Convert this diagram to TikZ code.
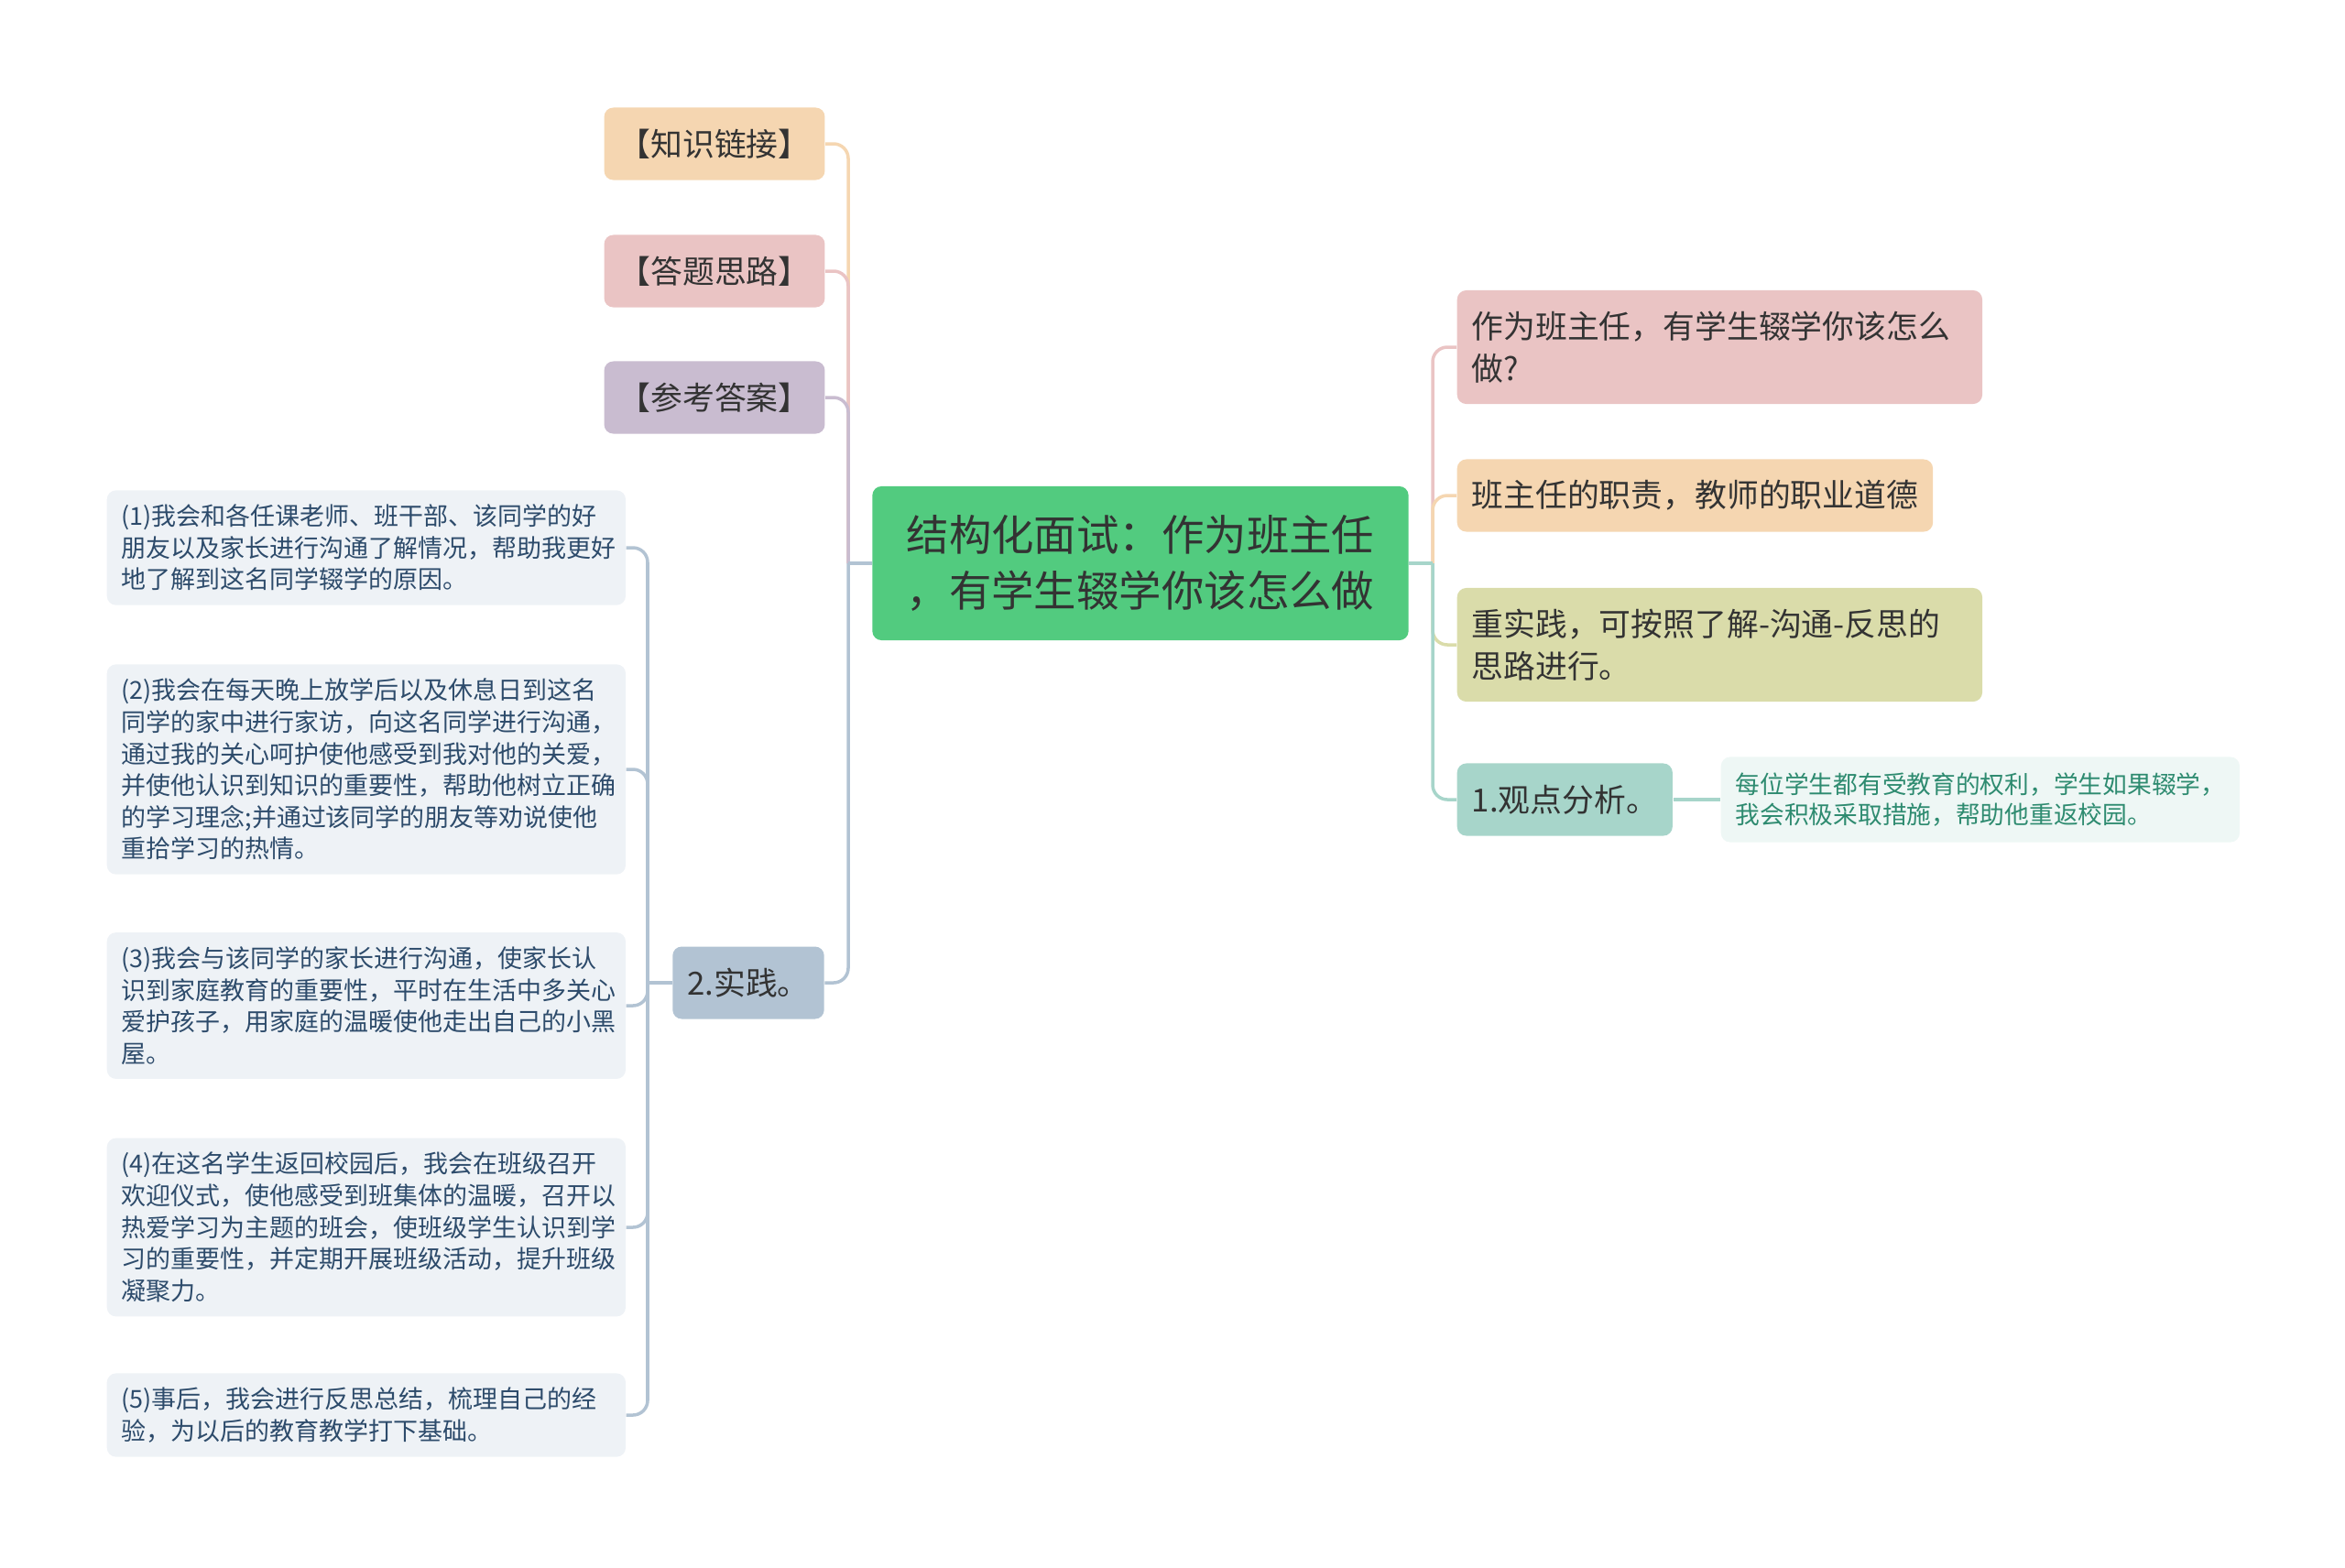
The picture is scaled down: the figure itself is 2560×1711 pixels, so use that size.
\documentclass[tikz,border=0pt]{standalone}
\usepackage{fontspec}
\setmainfont{Noto Sans CJK SC}
\usetikzlibrary{positioning}

\definecolor{peach}{HTML}{F5D6B1}
\definecolor{rose}{HTML}{EAC4C4}
\definecolor{lilac}{HTML}{C9BCD0}
\definecolor{rootgreen}{HTML}{52CB7F}
\definecolor{slate}{HTML}{B2C3D3}
\definecolor{leafbg}{HTML}{EEF2F6}
\definecolor{leaftext}{HTML}{2D4B6B}
\definecolor{olive}{HTML}{DADCAA}
\definecolor{mint}{HTML}{A7D5CA}
\definecolor{notebg}{HTML}{EEF7F5}
\definecolor{notetext}{HTML}{2E8B70}
\definecolor{textdark}{HTML}{333333}

\begin{document}
\begin{tikzpicture}[x=0.01cm, y=-0.01cm,
    box/.style={rounded corners=0.1cm, inner xsep=0.16cm, inner ysep=0pt, text=textdark},
    topic/.style={box, font=\fontsize{9.9}{13}\selectfont, minimum height=0.79cm},
    wide/.style={topic, text width=5.41cm, minimum height=1.24cm, align=left},
    leaf/.style={box, fill=leafbg, text=leaftext, font=\fontsize{7.67}{9.85}\selectfont,
        text width=5.34cm, inner ysep=4.4pt, align=left, anchor=west},
    link/.style={line width=1pt, rounded corners=0.16cm}]

    \useasboundingbox (0,0) rectangle (2560,1711);

    % centre
    \node[box, fill=rootgreen, font=\fontsize{13.2}{17.1}\selectfont, minimum width=5.85cm,
        minimum height=1.68cm, align=center] (root) at (1245,615)
        {结构化面试：作为班主任\\，有学生辍学你该怎么做};

    % left branch
    \node[topic, fill=peach, minimum width=2.4cm] (know) at (780,157) {【知识链接】};
    \node[topic, fill=rose, minimum width=2.4cm] (idea) at (780,296) {【答题思路】};
    \node[topic, fill=lilac, minimum width=2.4cm] (answer) at (780,434) {【参考答案】};
    \node[topic, fill=slate, minimum width=1.65cm] (prac) at (817,1073) {2.实践。};

    \node[leaf] (p1) at (116,598) {(1)我会和各任课老师、班干部、该同学的好\\朋友以及家长进行沟通了解情况，帮助我更好\\地了解到这名同学辍学的原因。};
    \node[leaf] (p2) at (116,840) {(2)我会在每天晚上放学后以及休息日到这名\\同学的家中进行家访，向这名同学进行沟通，\\通过我的关心呵护使他感受到我对他的关爱，\\并使他认识到知识的重要性，帮助他树立正确\\的学习理念;并通过该同学的朋友等劝说使他\\重拾学习的热情。};
    \node[leaf] (p3) at (116,1098) {(3)我会与该同学的家长进行沟通，使家长认\\识到家庭教育的重要性，平时在生活中多关心\\爱护孩子，用家庭的温暖使他走出自己的小黑\\屋。};
    \node[leaf] (p4) at (116,1340) {(4)在这名学生返回校园后，我会在班级召开\\欢迎仪式，使他感受到班集体的温暖，召开以\\热爱学习为主题的班会，使班级学生认识到学\\习的重要性，并定期开展班级活动，提升班级\\凝聚力。};
    \node[leaf] (p5) at (116,1545) {(5)事后，我会进行反思总结，梳理自己的经\\验，为以后的教育教学打下基础。};

    % right branch
    \node[wide, fill=rose, anchor=west] (ask) at (1590,379) {作为班主任，有学生辍学你该怎么\\做?};
    \node[topic, fill=peach, anchor=west, minimum width=5.19cm, align=left] (duty) at (1590,541) {班主任的职责，教师的职业道德};
    \node[wide, fill=olive, anchor=west] (plan) at (1590,704) {重实践，可按照了解-沟通-反思的\\思路进行。};
    \node[topic, fill=mint, anchor=west, minimum width=2.35cm] (view) at (1590,873) {1.观点分析。};
    \node[box, fill=notebg, text=notetext, font=\fontsize{7.6}{9.6}\selectfont, text width=5.34cm,
        minimum height=0.93cm, align=left, anchor=west] (note) at (1878,873)
        {每位学生都有受教育的权利，学生如果辍学，\\我会积极采取措施，帮助他重返校园。};

    % connectors
    \coordinate (lj) at (926,615);
    \coordinate (rj) at (1564,615);
    \coordinate (pj) at (707,1073);
    \draw[link, peach] (lj) |- (know.east);
    \draw[link, rose] (lj) |- (idea.east);
    \draw[link, lilac] (lj) |- (answer.east);
    \draw[link, slate] (lj) |- (prac.east);
    \draw[link, slate] (root.west) -- (lj);

    \foreach \i in {1,...,5}
    {
    \draw[link, slate] (pj) |- (p\i.east);
    }
    \draw[link, slate] (prac.west) -- (pj);

    \draw[link, rose] (rj) |- (ask.west);
    \draw[link, peach] (rj) |- (duty.west);
    \draw[link, olive] (rj) |- (plan.west);
    \draw[link, mint] (rj) |- (view.west);
    \draw[link, mint] (root.east) -- (rj);
    \draw[link, mint] (view.east) -- (note.west);
\end{tikzpicture}
\end{document}
